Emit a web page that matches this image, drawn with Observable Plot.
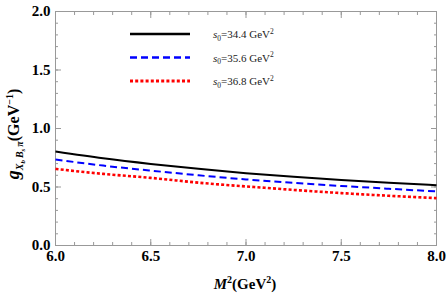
<!DOCTYPE html>
<html><head><meta charset="utf-8">
<script src="https://cdn.jsdelivr.net/npm/d3@7"></script>
<script src="https://cdn.jsdelivr.net/npm/@observablehq/plot@0.6"></script>
<style>
body{margin:0;background:#fff}
svg{display:block}
svg text{font-family:"Liberation Serif","DejaVu Serif",serif !important}
</style>
</head><body><div id="chart"></div>
<script>
const M2 = [6.0, 6.25, 6.5, 6.75, 7.0, 7.25, 7.5, 7.75, 8.0];
const g344 = [0.803, 0.745, 0.697, 0.655, 0.618, 0.587, 0.560, 0.537, 0.515];
const g356 = [0.735, 0.683, 0.640, 0.600, 0.565, 0.535, 0.509, 0.485, 0.462];
const g368 = [0.655, 0.612, 0.578, 0.537, 0.505, 0.475, 0.448, 0.425, 0.405];
const seriesNames = ["34.4", "35.6", "36.8"];
const xTicks = [6.0, 6.5, 7.0, 7.5, 8.0];
const yTicks = [0.0, 0.5, 1.0, 1.5, 2.0];

const colors = ["#000000", "#0000ff", "#ff0000"];
const dashes = [null, "7,4", "3,2.2"];
const widths = [2, 2, 2.6];
const allSeries = [g344, g356, g368];
const rows = allSeries.flatMap((s, k) => s.map((v, i) => ({x: M2[i], y: v, k})));
const minorX = d3.range(60, 81).map(v => v / 10);
const minorY = d3.range(0, 21).map(v => v / 10);
const font = "Liberation Serif, serif";
const frameColor = "#999";
const noText = {text: null, label: null, stroke: frameColor};

const plot = Plot.plot({
  width: 447, height: 297,
  marginLeft: 55, marginRight: 11, marginTop: 11, marginBottom: 52,
  x: {domain: [6, 8]},
  y: {domain: [0, 2]},
  style: {fontFamily: font, background: "#fff"},
  marks: [
    Plot.frame({stroke: frameColor}),
    Plot.axisX(minorX, {anchor: "bottom", tickSize: -3, ...noText}),
    Plot.axisX(minorX, {anchor: "top", tickSize: -3, ...noText}),
    Plot.axisX(xTicks, {anchor: "bottom", tickSize: -6, stroke: frameColor, tickFormat: d3.format(".1f"), fontSize: 15, fontWeight: "bold", fill: "#000", tickPadding: 11, label: null}),
    Plot.axisX(xTicks, {anchor: "top", tickSize: -6, ...noText}),
    Plot.axisY(minorY, {anchor: "left", tickSize: -3, ...noText}),
    Plot.axisY(minorY, {anchor: "right", tickSize: -3, ...noText}),
    Plot.axisY(yTicks, {anchor: "left", tickSize: -6, stroke: frameColor, tickFormat: d3.format(".1f"), fontSize: 15, fontWeight: "bold", fill: "#000", tickPadding: 11, label: null}),
    Plot.axisY(yTicks, {anchor: "right", tickSize: -6, ...noText}),
    ...[0,1,2].map(k => Plot.line(rows.filter(d => d.k === k), {
      x: "x", y: "y", curve: "natural", stroke: colors[k], strokeWidth: widths[k],
      strokeDasharray: dashes[k], strokeLinecap: "butt"
    }))
  ]
});
document.getElementById("chart").appendChild(plot);

const svg = d3.select(plot);
// legend
const lg = svg.append("g").attr("text-anchor", "start");
seriesNames.forEach((name, k) => {
  const y = 34 + k * 23.5;
  lg.append("line").attr("x1", 130).attr("x2", 190).attr("y1", y).attr("y2", y)
    .attr("stroke", colors[k]).attr("stroke-width", widths[k] + 0.3)
    .attr("stroke-dasharray", dashes[k]);
  const t = lg.append("text").attr("x", 213).attr("y", y + 4).attr("font-size", 11)
    .attr("text-anchor", "start").attr("fill", "#222");
  t.append("tspan").attr("font-style", "italic").text("s");
  t.append("tspan").attr("dy", 2.5).attr("font-size", 7.5).text("0");
  t.append("tspan").attr("dy", -2.5).text("=" + name + " GeV");
  t.append("tspan").attr("dy", -4.5).attr("font-size", 7.5).text("2");
});
// x label
const xl = svg.append("text").attr("x", 245).attr("y", 289).attr("text-anchor", "middle")
  .attr("font-size", 15).attr("font-weight", "bold");
xl.append("tspan").attr("font-style", "italic").text("M");
xl.append("tspan").attr("dy", -6).attr("font-size", 10).text("2");
xl.append("tspan").attr("dy", 6).text("(GeV");
xl.append("tspan").attr("dy", -6).attr("font-size", 10).text("2");
xl.append("tspan").attr("dy", 6).text(")");
// y label
const yl = svg.append("text").attr("transform", "translate(19,134) rotate(-90)").attr("text-anchor", "middle")
  .attr("font-size", 15).attr("font-weight", "bold");
yl.append("tspan").attr("font-style", "italic").attr("font-size", 18).text("g");
yl.append("tspan").attr("dy", 4).attr("font-size", 10).attr("font-style", "italic").text("X");
yl.append("tspan").attr("dy", 2).attr("font-size", 7).attr("font-style", "italic").text("b");
yl.append("tspan").attr("dy", -2).attr("font-size", 10).attr("font-style", "italic").text("\u2009B");
yl.append("tspan").attr("dy", 2).attr("font-size", 7).attr("font-style", "italic").text("s");
yl.append("tspan").attr("dy", -2).attr("font-size", 10).attr("font-style", "italic").text("\u2009π");
yl.append("tspan").attr("dy", -4).attr("font-size", 16).text("(GeV");
yl.append("tspan").attr("dy", -6).attr("font-size", 10).text("−1");
yl.append("tspan").attr("dy", 6).attr("font-size", 16).text(")");
</script></body></html>
